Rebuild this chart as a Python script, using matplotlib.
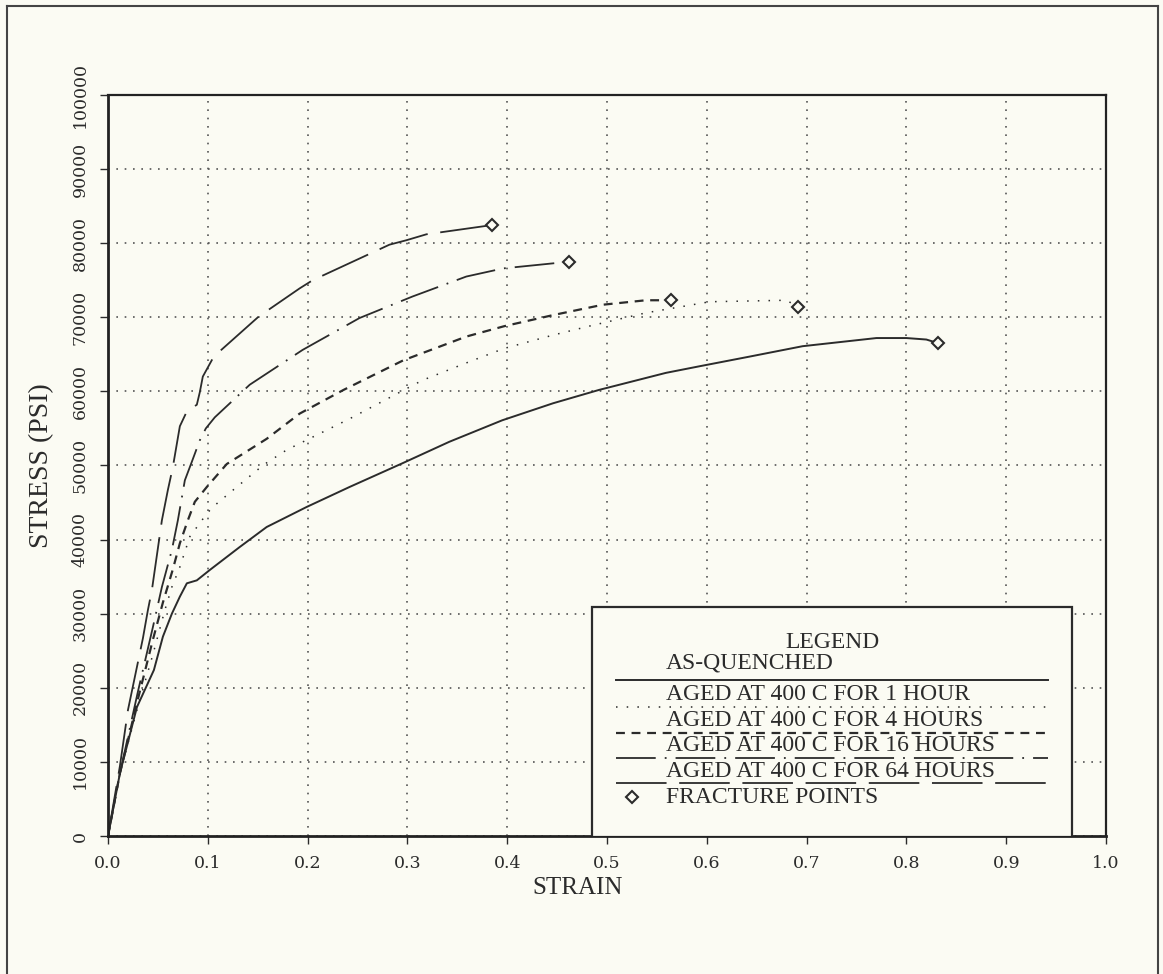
import numpy as np
import matplotlib.pyplot as plt
from matplotlib.lines import Line2D
from matplotlib.patches import Rectangle

# strain / stress readings (psi) for each heat treatment
strain_aq = [0, 0.012, 0.029, 0.046, 0.055, 0.064, 0.072, 0.079, 0.089, 0.102, 0.132, 0.159,
             0.199, 0.242, 0.295, 0.342, 0.395, 0.446, 0.492, 0.559, 0.593, 0.643, 0.696,
             0.77, 0.80, 0.82, 0.832]
stress_aq = [0, 8500, 17400, 22400, 26900, 30000, 32300, 34100, 34500, 35900, 39000, 41700,
             44400, 47100, 50300, 53200, 56100, 58400, 60200, 62500, 63400, 64700, 66100,
             67200, 67200, 67000, 66500]

strain_1h = [0, 0.012, 0.03, 0.045, 0.057, 0.064, 0.072, 0.082, 0.099, 0.105, 0.129, 0.156,
             0.179, 0.242, 0.315, 0.362, 0.397, 0.446, 0.482, 0.539, 0.603, 0.68, 0.691]
stress_1h = [0, 8500, 17500, 24500, 30500, 33600, 36300, 40400, 43500, 44400, 47100, 50100,
             52100, 56300, 61500, 64000, 65800, 67600, 68800, 70600, 72100, 72300, 71400]

strain_4h = [0, 0.012, 0.03, 0.045, 0.055, 0.065, 0.072, 0.080, 0.087, 0.099, 0.119, 0.159,
             0.192, 0.236, 0.296, 0.359, 0.397, 0.446, 0.496, 0.539, 0.564]
stress_4h = [0, 8500, 18500, 26500, 31500, 36000, 39500, 42600, 45100, 47100, 50200, 53600,
             57000, 60200, 64200, 67400, 68800, 70300, 71700, 72300, 72300]

strain_16h = [0, 0.012, 0.03, 0.045, 0.054, 0.064, 0.070, 0.077, 0.084, 0.092, 0.098, 0.107,
              0.142, 0.195, 0.252, 0.305, 0.359, 0.396, 0.462]
stress_16h = [0, 8500, 19500, 28200, 33600, 38600, 42600, 48000, 50500, 53400, 55000, 56500,
              60900, 65600, 69900, 72800, 75500, 76600, 77500]

strain_64h = [0, 0.012, 0.020, 0.035, 0.040, 0.044, 0.054, 0.060, 0.065, 0.072, 0.079, 0.089,
              0.092, 0.095, 0.106, 0.151, 0.192, 0.205, 0.282, 0.299, 0.319, 0.385]
stress_64h = [0, 9500, 17000, 26700, 30500, 33200, 42600, 46700, 49800, 55300, 57300, 58200,
              59900, 62000, 64700, 70100, 73900, 75000, 79800, 80400, 81200, 82450]

fracture_strain = [0.832, 0.691, 0.564, 0.462, 0.385]
fracture_stress = [66500, 71400, 72300, 77500, 82450]

labels = ['AS-QUENCHED', 'AGED AT 400 C FOR 1 HOUR', 'AGED AT 400 C FOR 4 HOURS',
          'AGED AT 400 C FOR 16 HOURS', 'AGED AT 400 C FOR 64 HOURS']

ink = '#2b2b2b'
paper = '#fbfbf3'
styles = [
    dict(ls='-', lw=1.4),
    dict(ls=(0, (1, 6)), lw=1.1),
    dict(ls=(0, (4, 3)), lw=1.6),
    dict(ls=(0, (22, 5, 1, 5)), lw=1.3),
    dict(ls=(0, (28, 7)), lw=1.3),
]

fig = plt.figure(figsize=(11.63, 9.74), dpi=100, facecolor=paper)
ax = fig.add_axes([108 / 1163, 1 - 836 / 974, 998 / 1163, 741 / 974])
ax.set_facecolor(paper)

curves = [(strain_aq, stress_aq), (strain_1h, stress_1h), (strain_4h, stress_4h),
          (strain_16h, stress_16h), (strain_64h, stress_64h)]
for (x, y), st in zip(curves, styles):
    ax.plot(x, y, color=ink, linestyle=st['ls'], linewidth=st['lw'])

ax.plot(fracture_strain, fracture_stress, linestyle='none', marker='D', markersize=6,
        markerfacecolor=paper, markeredgecolor=ink, markeredgewidth=1.5)

ax.set_xlim(0, 1.0)
ax.set_ylim(0, 100000)
ax.set_xticks(np.arange(0, 1.01, 0.1))
ax.set_yticks(np.arange(0, 100001, 10000))
ax.set_xticklabels(['%.1f' % v for v in np.arange(0, 1.01, 0.1)])
ax.set_yticklabels([str(v) for v in range(0, 100001, 10000)])
ax.grid(True, linestyle=(0, (1, 4)), color='#555555', linewidth=1.2)

for s in ['top', 'right']:
    ax.spines[s].set_linewidth(1.6)
for s in ['bottom', 'left']:
    ax.spines[s].set_linewidth(2.0)
for s in ax.spines.values():
    s.set_color('#222222')

ax.tick_params(axis='both', direction='out', length=6, width=1, color=ink, labelcolor=ink,
               labelsize=12.5, pad=8)
ax.tick_params(axis='y', labelrotation=90)
for t in ax.get_yticklabels():
    t.set_verticalalignment('center')
for t in ax.get_xticklabels() + ax.get_yticklabels():
    t.set_family('DejaVu Serif')

ax.set_xlabel('STRAIN', family='Liberation Serif', fontsize=18, color=ink)
ax.xaxis.set_label_coords((578 - 108) / 998, -0.056)
ax.set_ylabel('STRESS (PSI)', family='Liberation Serif', fontsize=20, color=ink)
ax.yaxis.set_label_coords(-0.054, 0.5)

# legend box drawn like the plotter did: text with a sample line beneath
ax.add_patch(Rectangle((0.485, -0.001), 0.481, 0.310, transform=ax.transAxes,
                       facecolor=paper, edgecolor=ink, linewidth=1.6, zorder=5))
ax.text(0.7255, 0.2605, 'LEGEND', transform=ax.transAxes, ha='center', va='center',
        family='Liberation Serif', fontsize=17, color=ink, zorder=6)
text_y = [0.2335, 0.1916, 0.1552, 0.1215, 0.0864]
line_y = [0.2105, 0.174, 0.139, 0.105, 0.0715]
for lab, ty, ly, st in zip(labels, text_y, line_y, styles):
    ax.text(0.559, ty, lab, transform=ax.transAxes, ha='left', va='center',
            family='Liberation Serif', fontsize=17, color=ink, zorder=6)
    ax.add_line(Line2D([0.509, 0.942], [ly, ly], transform=ax.transAxes, color=ink,
                       linestyle=st['ls'], linewidth=st['lw'], zorder=6))
ax.add_line(Line2D([0.525], [0.0526], transform=ax.transAxes, linestyle='none', marker='D',
                   markersize=6, markerfacecolor=paper, markeredgecolor=ink,
                   markeredgewidth=1.5, zorder=6))
ax.text(0.559, 0.0526, 'FRACTURE POINTS', transform=ax.transAxes, ha='left', va='center',
        family='Liberation Serif', fontsize=17, color=ink, zorder=6)

# page frame from the scan
fx0, fx1, fy1 = 7 / 1163, 1158 / 1163, 1 - 6 / 974
for xs, ys in [([fx0, fx0], [0, fy1]), ([fx0, fx1], [fy1, fy1]), ([fx1, fx1], [fy1, 0])]:
    fig.add_artist(Line2D(xs, ys, transform=fig.transFigure, color='#444444', linewidth=1.5))

fig.savefig('out.png', dpi=100, facecolor=paper)
